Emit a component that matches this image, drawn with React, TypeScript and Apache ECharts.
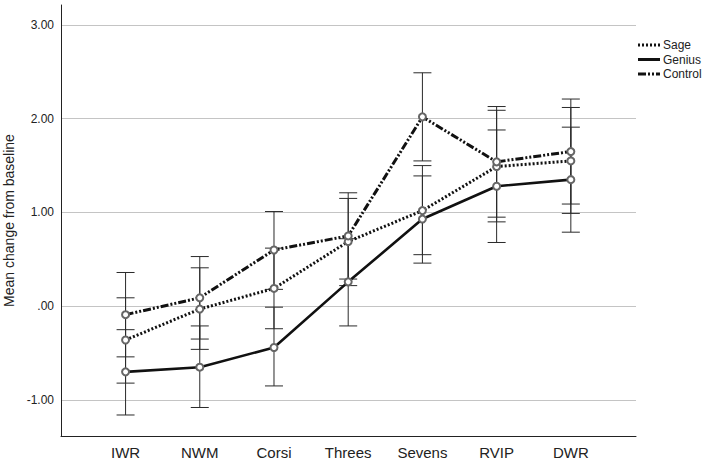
import React, { useEffect, useRef } from 'react';
import * as echarts from 'echarts';

const categories = ['IWR', 'NWM', 'Corsi', 'Threes', 'Sevens', 'RVIP', 'DWR'];
const yTicks = [-1, 0, 1, 2, 3];
const yAxisTitle = 'Mean change from baseline';

const sageMean = [-0.36, -0.03, 0.19, 0.69, 1.02, 1.49, 1.55];
const sageLow = [-0.82, -0.46, -0.24, 0.22, 0.55, 0.9, 0.99];
const sageHigh = [0.09, 0.41, 0.62, 1.15, 1.5, 2.09, 2.12];

const geniusMean = [-0.7, -0.65, -0.44, 0.26, 0.93, 1.28, 1.35];
const geniusLow = [-1.16, -1.08, -0.85, -0.21, 0.46, 0.68, 0.79];
const geniusHigh = [-0.25, -0.21, -0.01, 0.72, 1.39, 1.88, 1.91];

const controlMean = [-0.09, 0.09, 0.6, 0.75, 2.02, 1.54, 1.65];
const controlLow = [-0.54, -0.35, 0.18, 0.29, 1.55, 0.95, 1.09];
const controlHigh = [0.36, 0.53, 1.01, 1.21, 2.49, 2.13, 2.21];

const FONT = '"Liberation Sans", Arial, sans-serif';

const groups = [
  { name: 'Sage', mean: sageMean, low: sageLow, high: sageHigh, dash: [2, 2], width: 3 },
  { name: 'Genius', mean: geniusMean, low: geniusLow, high: geniusHigh, dash: null as number[] | null, width: 2.6 },
  { name: 'Control', mean: controlMean, low: controlLow, high: controlHigh, dash: [8, 2, 2, 2, 2, 2], width: 3 },
];

export default function App() {
  const ref = useRef<HTMLDivElement>(null);
  useEffect(() => {
    const chart = echarts.init(ref.current!, null, { renderer: 'svg' });

    const errorSeries = groups.map((g) => ({
      type: 'custom',
      name: g.name + ' CI',
      z: 1,
      data: categories.map((_, i) => [i, g.low[i], g.high[i]]),
      renderItem: (params: any, api: any) => {
        const x = api.value(0);
        const lo = api.coord([x, api.value(1)]);
        const hi = api.coord([x, api.value(2)]);
        const hw = 9;
        const st = { stroke: '#2a2a2a', lineWidth: 1 };
        return {
          type: 'group',
          children: [
            { type: 'line', shape: { x1: lo[0], y1: lo[1], x2: hi[0], y2: hi[1] }, style: st },
            { type: 'line', shape: { x1: lo[0] - hw, y1: lo[1], x2: lo[0] + hw, y2: lo[1] }, style: st },
            { type: 'line', shape: { x1: hi[0] - hw, y1: hi[1], x2: hi[0] + hw, y2: hi[1] }, style: st },
          ],
        };
      },
    }));

    const lineSeries = groups.map((g) => ({
      type: 'line',
      name: g.name,
      z: 3,
      data: g.mean.map((v, i) => [i, v]),
      symbol: 'emptyCircle',
      symbolSize: 7,
      itemStyle: { color: '#666', borderWidth: 1 },
      lineStyle: {
        color: '#111',
        width: g.width,
        type: g.dash ? g.dash : 'solid',
        cap: 'butt',
      },
    }));

    const legendY = [45, 59.5, 74];
    const legendGraphics: any[] = [];
    groups.forEach((g, i) => {
      legendGraphics.push({
        type: 'line',
        shape: { x1: 638, y1: legendY[i], x2: 660, y2: legendY[i] },
        style: { stroke: '#111', lineWidth: 3, lineDash: g.dash || null },
      });
      legendGraphics.push({
        type: 'text',
        x: 663,
        y: legendY[i],
        style: {
          text: g.name,
          font: '12px ' + FONT,
          fill: '#222',
          verticalAlign: 'middle',
          align: 'left',
        },
      });
    });

    chart.setOption({
      animation: false,
      backgroundColor: '#fff',
      textStyle: { fontFamily: FONT },
      grid: { left: 61, right: 73, top: 5, bottom: 24, containLabel: false, outerBoundsMode: 'none' },
      xAxis: {
        type: 'value',
        min: -0.87,
        max: 6.878,
        axisLine: { show: true, onZero: false, lineStyle: { color: '#222', width: 1 } },
        axisTick: { show: false },
        splitLine: { show: false },
        axisLabel: {
          customValues: categories.map((_, i) => i),
          formatter: (v: number) => categories[Math.round(v)] ?? '',
          fontSize: 15,
          color: '#222',
          margin: 9,
          fontFamily: FONT,
        },
      },
      yAxis: {
        type: 'value',
        min: -1.384,
        max: 3.213,
        name: yAxisTitle,
        nameLocation: 'middle',
        nameGap: 39,
        nameTextStyle: { fontSize: 14, color: '#222', fontFamily: FONT },
        axisLine: { show: true, onZero: false, lineStyle: { color: '#222', width: 1 } },
        axisTick: { show: false, customValues: yTicks },
        splitLine: { show: true, lineStyle: { color: '#c4c4c4', width: 1 } },
        axisLabel: {
          customValues: yTicks,
          formatter: (v: number) => (Math.abs(v) < 1e-9 ? '.00' : v.toFixed(2)),
          fontSize: 12,
          color: '#222',
          margin: 7,
          fontFamily: FONT,
        },
      },
      graphic: legendGraphics,
      series: [...errorSeries, ...lineSeries],
    });

    return () => chart.dispose();
  }, []);
  return (
    <div
      ref={ref}
      style={{ position: 'fixed', left: 0, top: 0, width: 709, height: 460, background: '#fff' }}
    />
  );
}
